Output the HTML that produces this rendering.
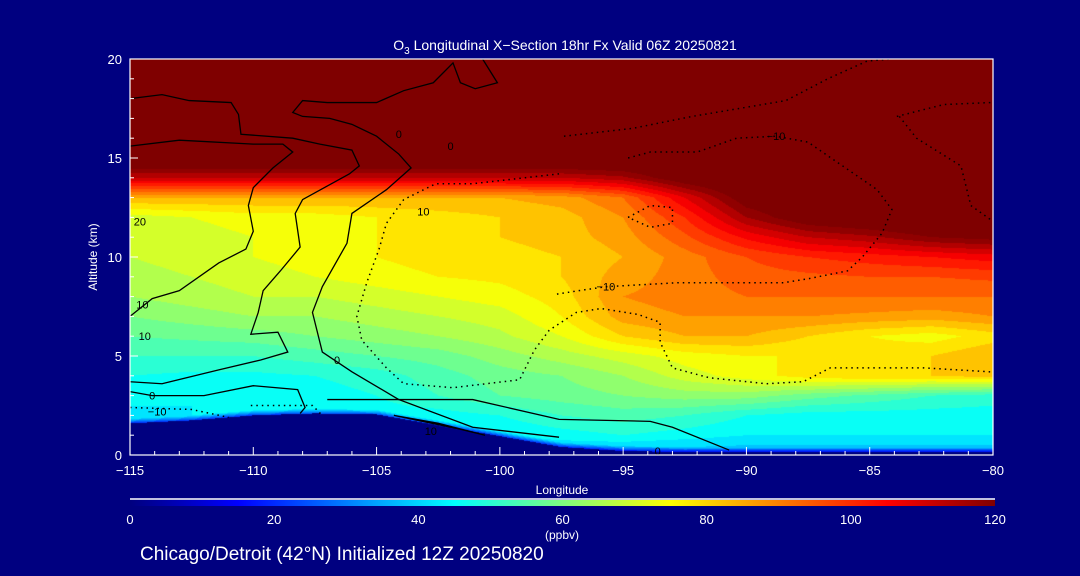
<!DOCTYPE html>
<html><head><meta charset="utf-8">
<style>
html,body{margin:0;padding:0;background:#000080;}
#wrap{position:relative;width:1080px;height:576px;background:#000080;overflow:hidden;font-family:"Liberation Sans",sans-serif;color:#fff;}
canvas{position:absolute;left:130px;top:59px;}
svg{position:absolute;left:0;top:0;}
</style></head>
<body>
<div id="wrap">
<canvas id="field" width="863" height="396"></canvas>
<svg id="ov" width="1080" height="576"></svg>
</div>
<script>
// ---- data ----
const lons = [-115,-112.5,-110,-107.5,-105,-102.5,-100,-97.5,-95,-92.5,-90,-87.5,-85,-82.5,-80];
const alts = [0,1,2,3,4,5,6,7,8,9,10,11,12,13,14,15,16,17,18,19,20];
const ozone = [
 [38,38,38,38,38,38,38,38,36,36,36,36,36,36,36],
 [42,42,42,42,42,42,44,46,48,46,44,44,44,44,44],
 [43,44,44,46,46,46,48,52,54,52,48,46,46,46,46],
 [45,44,44,46,48,52,56,58,60,62,62,58,55,52,50],
 [48,47,47,48,50,54,58,60,64,70,74,78,80,80,82],
 [52,52,52,54,56,58,62,66,70,74,76,76,78,80,84],
 [56,57,58,60,62,64,67,72,80,84,84,80,76,74,78],
 [60,62,64,64,66,68,70,76,86,88,88,88,87,86,88],
 [64,66,68,68,70,72,74,78,88,90,92,92,92,92,92],
 [66,68,70,72,74,76,77,80,86,90,94,95,96,96,97],
 [68,70,72,74,76,78,78,80,84,90,96,100,102,104,106],
 [68,70,72,74,76,78,80,82,86,95,105,112,115,120,122],
 [70,72,74,74,76,78,80,82,88,100,116,125,128,130,130],
 [84,84,84,84,84,84,84,86,92,108,124,128,130,130,130],
 [112,112,112,112,112,112,112,112,115,125,130,130,130,130,130],
 [130,130,130,130,130,130,130,130,130,130,130,130,130,130,130],
 [130,130,130,130,130,130,130,130,130,130,130,130,130,130,130],
 [130,130,130,130,130,130,130,130,130,130,130,130,130,130,130],
 [130,130,130,130,130,130,130,130,130,130,130,130,130,130,130],
 [130,130,130,130,130,130,130,130,130,130,130,130,130,130,130],
 [130,130,130,130,130,130,130,130,130,130,130,130,130,130,130]
];
const terrain = [1.6,1.75,2.0,2.1,2.05,1.5,0.95,0.4,0.2,0.15,0.15,0.15,0.15,0.15,0.15];
const xTicks = [-115,-110,-105,-100,-95,-90,-85,-80];
const yTicks = [0,5,10,15,20];
const cbTicks = [0,20,40,60,80,100,120];
const solidLines = [
 [[-115,15.6],[-113,15.9],[-110,15.7],[-108.8,15.7],[-108.4,15.3],[-109.2,14.5],[-110,13.5],[-110.2,12.6],[-110,11.3],[-110.3,10.4],[-111.4,9.7],[-113,8.3],[-114.1,7.9],[-115,7.0]],
 [[-115,18.0],[-113.7,18.2],[-112.6,17.9],[-110.9,17.8],[-110.6,17.2],[-110.5,16.2],[-108.4,16.0],[-107.3,15.7],[-106,15.4],[-105.7,14.6],[-106.1,14.2],[-108,12.9],[-108.3,12.2],[-108.1,10.5],[-108.9,9.3],[-109.6,8.3],[-109.8,7.2],[-110.1,6.1],[-109,6.2],[-108.6,5.2],[-109.7,4.8],[-111.4,4.3],[-113.7,3.6],[-115,3.7]],
 [[-100.7,20],[-100.1,18.8],[-101,18.5],[-101.6,18.8],[-101.9,19.8],[-102.7,18.8],[-103.9,18.4],[-105,17.8],[-107,17.8],[-108,17.9],[-108.4,17.3],[-108,17.1],[-106.9,17.0],[-106,16.7],[-105,16.1],[-104.1,15.2],[-103.6,14.5],[-104.6,13.4],[-106,12.2],[-106.2,10.7],[-107.2,8.5],[-107.6,7.2],[-107.2,5.2],[-106.6,4.7],[-106,4.2],[-104.1,2.8],[-101.1,2.8],[-97.6,1.8],[-93.9,1.7],[-93,1.4],[-90.7,0.25]],
 [[-115,3.2],[-114.1,3.0],[-112,3.0],[-110,3.5],[-108.2,3.3],[-107.9,2.4],[-108.1,2.1]],
 [[-107,2.8],[-104.1,2.8],[-101.1,1.4],[-97.6,0.9]],
 [[-104.3,2.0],[-102.5,1.6],[-100.6,1.0],[-101.6,1.3],[-104.3,2.0]]
];
const dottedLines = [
 [[-97.4,16.1],[-94.6,16.5],[-92.2,17.1],[-88.4,17.9],[-86.7,19.0],[-85.1,19.9],[-84.1,20.0]],
 [[-94.8,15.0],[-93.9,15.3],[-92,15.3],[-90.4,16.0],[-88.8,16.1],[-87.5,15.8],[-86.1,14.6],[-84.7,13.4],[-84.1,12.4],[-84.5,11.2],[-85.3,10.0],[-85.9,9.3],[-87.5,8.9],[-88.5,8.7],[-91.5,8.7],[-92.8,8.7],[-95.7,8.5],[-96.8,8.3],[-97.8,8.1]],
 [[-97.6,14.2],[-101.1,13.7],[-102.6,13.7],[-103.9,12.9],[-104.6,11.7],[-104.9,10.4],[-105.4,8.7],[-105.8,7.0],[-105.6,5.8],[-104.6,4.4],[-103.9,3.6],[-101.9,3.4],[-99.2,3.8],[-98.6,5.3],[-98,6.3],[-96.9,7.2],[-95.9,7.4],[-94.4,7.1],[-93.5,6.7],[-93.5,5.7],[-93,4.4],[-91.5,3.9],[-89.2,3.6],[-87.7,3.7],[-86.6,4.4],[-84.5,4.4],[-82.8,4.4],[-80.1,4.2]],
 [[-83.9,17.1],[-82,17.7],[-80.1,17.8]],
 [[-83.8,17.1],[-83.1,16.0],[-81.3,14.6],[-80.9,12.6],[-80,11.8]],
 [[-94.8,12.0],[-93.9,12.6],[-93,12.5],[-93,11.7],[-93.9,11.5],[-94.8,12.0]],
 [[-110.1,2.5],[-107.6,2.5],[-107.2,2.0]],
 [[-115,2.4],[-112.5,2.3],[-111,1.9]]
];
const contourLabels = [
 ["0",-104.1,16.2],["0",-102.0,15.6],["\u221210",-88.8,16.1],["\u221210",-95.7,8.5],
 ["0",-106.6,4.8],["10",-102.8,1.2],["\u221210",-113.9,2.2],["10",-114.4,6.0],
 ["10",-114.5,7.6],["0",-114.1,3.0],["0",-93.6,0.2],["10",-103.1,12.3],["20",-114.6,11.8]
];

// ---- scales ----
const PX0=130, PX1=993, PY0=455, PY1=59;
const xs = l => PX0 + (l - (-115)) / 35 * (PX1-PX0);
const ys = a => PY0 - a / 20 * (PY0-PY1);
const cbx = v => 130 + v/120*(995-130);

function jet(t){
  t=Math.max(0,Math.min(1,t));
  const f=(x)=>Math.max(0,Math.min(1,x));
  const r=f(Math.min(4*t-1.5,-4*t+4.5)), g=f(Math.min(4*t-0.5,-4*t+3.5)), b=f(Math.min(4*t+0.5,-4*t+2.5));
  return [r*255|0,g*255|0,b*255|0];
}
function interp(arr, lon){
  let i=0; while(i<lons.length-2 && lon>lons[i+1]) i++;
  const t=(lon-lons[i])/(lons[i+1]-lons[i]);
  return arr[i]*(1-t)+arr[i+1]*t;
}
function field(lon, alt){
  let i=0; while(i<lons.length-2 && lon>lons[i+1]) i++;
  let j=Math.min(alts.length-2, Math.floor(alt));
  const tx=(lon-lons[i])/(lons[i+1]-lons[i]), ty=(alt-alts[j])/(alts[j+1]-alts[j]);
  const v00=ozone[j][i],v01=ozone[j][i+1],v10=ozone[j+1][i],v11=ozone[j+1][i+1];
  return (v00*(1-tx)+v01*tx)*(1-ty)+(v10*(1-tx)+v11*tx)*ty;
}
// ---- field ----
const cv=document.getElementById('field'), ctx=cv.getContext('2d');
const W=cv.width,H=cv.height, img=ctx.createImageData(W,H);
for(let py=0;py<H;py++){
  const alt=(H-py-0.5)/H*20;
  for(let px=0;px<W;px++){
    const lon=-115+(px+0.5)/W*35;
    const ter=interp(terrain,lon);
    let c;
    if(alt<ter){c=[0,0,128];}
    else{
      let v=field(lon,alt);
      const d=alt-ter;
      if(d<0.25) v-= (1-d/0.25)*22;
      v=Math.floor(v/4)*4+2;
      c=jet(v/120);
    }
    const k=(py*W+px)*4; img.data[k]=c[0];img.data[k+1]=c[1];img.data[k+2]=c[2];img.data[k+3]=255;
  }
}
ctx.putImageData(img,0,0);

// ---- overlay ----
const NS='http://www.w3.org/2000/svg', svg=document.getElementById('ov');
function el(tag,attrs,parent){const e=document.createElementNS(NS,tag);for(const k in attrs)e.setAttribute(k,attrs[k]);(parent||svg).appendChild(e);return e;}
function txt(s,x,y,attrs){const t=el('text',Object.assign({x:x,y:y,fill:'#fff','font-family':'Liberation Sans, sans-serif','font-size':13},attrs||{}));t.textContent=s;return t;}

const gc=el('g',{});


solidLines.forEach(line=>{
  const p=el('polyline',{points:line.map(q=>xs(q[0])+','+ys(q[1])).join(' '),fill:'none',stroke:'#000','stroke-width':1.3},gc);
  
  
});
dottedLines.forEach(line=>{
  const p=el('polyline',{points:line.map(q=>xs(q[0])+','+ys(q[1])).join(' '),fill:'none',stroke:'#000','stroke-width':1.5,'stroke-dasharray':'1.5 4'},gc);
  
  
});
contourLabels.forEach(l=>{
  const t=txt(l[0],xs(l[1]),ys(l[2])+4,{fill:'#000','font-size':11,'text-anchor':'middle'});
  
  
});

// frame
const fr=el('rect',{x:PX0,y:PY1,width:PX1-PX0,height:PY0-PY1,fill:'none',stroke:'#fff','stroke-width':1.2});



// x ticks
for(let l=-115;l<=-80;l++){
  const major=(l%5===0);
  el('line',{x1:xs(l),x2:xs(l),y1:PY0,y2:PY0-(major?8:4),stroke:'#fff','stroke-width':1});
}
xTicks.forEach(l=>{
  const t=txt(l===0?'0':'\u2212'+Math.abs(l),xs(l),475,{'text-anchor':'middle'});
  
  
});
yTicks.forEach(a=>{
  el('line',{x1:PX0,x2:PX0+8,y1:ys(a),y2:ys(a),stroke:'#fff','stroke-width':1});
  const t=txt(String(a),122,ys(a)+5,{'text-anchor':'end'});
  
  
});
for(let a=1;a<20;a++){ if(a%5) el('line',{x1:PX0,x2:PX0+4,y1:ys(a),y2:ys(a),stroke:'#fff','stroke-width':1}); }

const xt=txt('Longitude',562,494,{'text-anchor':'middle','font-size':12});


const yt=txt('Altitude (km)',0,0,{'text-anchor':'middle','font-size':12,transform:'translate(97,257) rotate(-90)'});



const title=el('text',{x:565,y:50,fill:'#fff','font-family':'Liberation Sans, sans-serif','font-size':14,'text-anchor':'middle'});


title.innerHTML='O<tspan font-size="10" dy="4">3</tspan><tspan dy="-4"> Longitudinal X\u2212Section 18hr  Fx Valid 06Z 20250821</tspan>';

// colorbar
const defs=el('defs',{});
const grad=el('linearGradient',{id:'jetg',x1:0,x2:1,y1:0,y2:0},defs);
for(let i=0;i<=24;i++){const c=jet(i/24);el('stop',{offset:(i/24),'stop-color':'rgb('+c.join(',')+')'},grad);}
const cbl=el('line',{x1:130,x2:995,y1:499,y2:499,stroke:'#fff','stroke-width':1.5});


const cb=el('rect',{x:130,y:500,width:865,height:6,fill:'url(#jetg)'});


cbTicks.forEach(v=>{
  const t=txt(String(v),cbx(v),524,{'text-anchor':'middle'});
  
  
});
const un=txt('(ppbv)',562,539,{'text-anchor':'middle','font-size':12});


const sub=txt('Chicago/Detroit (42\u00b0N) Initialized 12Z 20250820',140,560,{'font-size':19});


</script>
</body></html>
